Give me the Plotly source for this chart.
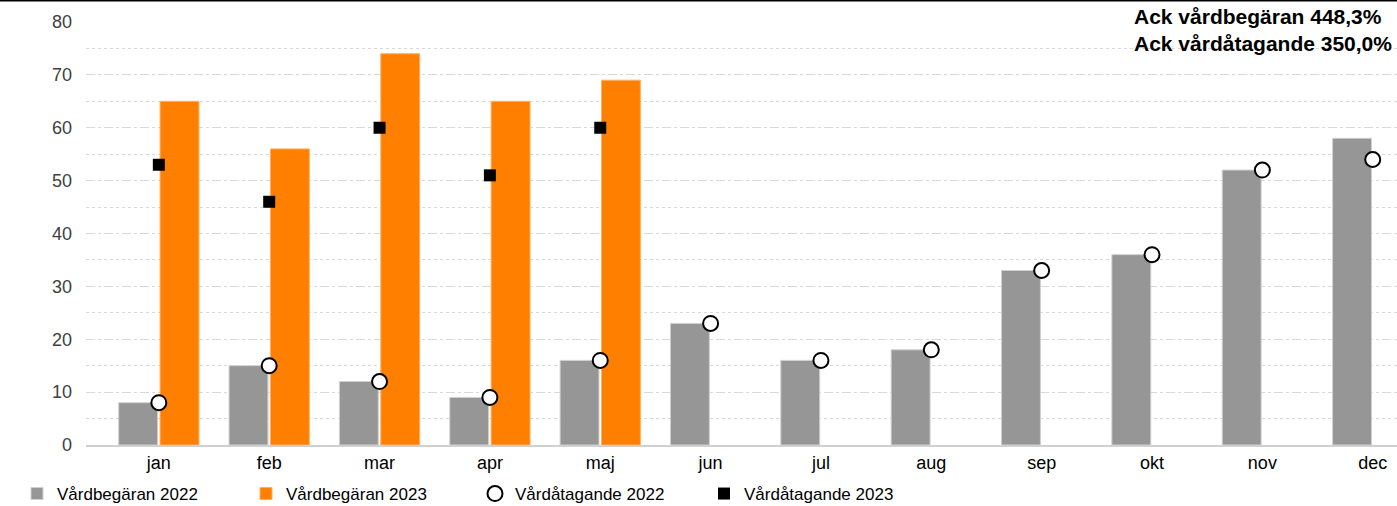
import plotly.graph_objects as go

months = ["jan", "feb", "mar", "apr", "maj", "jun", "jul", "aug", "sep", "okt", "nov", "dec"]
vardbegaran_2022 = [8, 15, 12, 9, 16, 23, 16, 18, 33, 36, 52, 58]
vardbegaran_2023 = [65, 56, 74, 65, 69, None, None, None, None, None, None, None]
vardatagande_2022 = [8, 15, 12, 9, 16, 23, 16, 18, 33, 36, 52, 54]
vardatagande_2023 = [53, 46, 60, 51, 60, None, None, None, None, None, None, None]
y_ticks = [0, 10, 20, 30, 40, 50, 60, 70, 80]
note_text = "Ack vårdbegäran 448,3%<br>Ack vårdåtagande 350,0%"

W, H = 1397, 506
L, T, B = 86, 22, 61
plot_h = H - T - B
plot_w = W - L

fig = go.Figure()
fig.add_trace(go.Bar(x=months, y=vardbegaran_2022, name="Vårdbegäran 2022",
                     marker=dict(color="#969696", line=dict(color="#d0d0d0", width=1))))
fig.add_trace(go.Bar(x=months, y=vardbegaran_2023, name="Vårdbegäran 2023",
                     marker=dict(color="#FF8000", line=dict(color="#ffb066", width=1))))
fig.add_trace(go.Scatter(x=months, y=vardatagande_2022, name="Vårdåtagande 2022", mode="markers",
                         marker=dict(symbol="circle", size=15, color="white",
                                     line=dict(color="black", width=2))))
fig.add_trace(go.Scatter(x=months, y=vardatagande_2023, name="Vårdåtagande 2023", mode="markers",
                         marker=dict(symbol="square", size=12, color="black",
                                     line=dict(color="black", width=0))))

fig.update_layout(
    width=W, height=H,
    margin=dict(l=L, r=0, t=T, b=B, pad=0, autoexpand=False),
    paper_bgcolor="white", plot_bgcolor="white",
    font=dict(family="Liberation Sans, Arial, sans-serif", size=17, color="black"),
    barmode="group", bargap=0.25, bargroupgap=0.06,
    showlegend=True,
    legend=dict(orientation="h", x=(17 - L) / plot_w, xanchor="left",
                y=(plot_h - (494 - T)) / plot_h, yanchor="middle",
                entrywidth=184, entrywidthmode="pixels",
                font=dict(size=17, color="black"), bgcolor="rgba(0,0,0,0)",
                traceorder="normal"),
    xaxis=dict(range=[-0.66, 11.22], showgrid=False, showline=True, linecolor="#d0d0d0",
               linewidth=2, ticks="", tickfont=dict(size=18, color="black"), zeroline=False),
    yaxis=dict(range=[0, 80], tickvals=y_ticks, showgrid=True, gridcolor="#d9d9d9",
               griddash="dash", gridwidth=1, zeroline=False, showline=False,
               tickfont=dict(size=18, color="#404040"), ticklabelstandoff=13,
               minor=dict(dtick=5, showgrid=True, gridcolor="#d9d9d9", griddash="dot", gridwidth=1)),
    annotations=[dict(text="<b>" + note_text + "</b>", xref="paper", yref="paper",
                      x=(plot_w - 3) / plot_w, y=(plot_h + T - 3) / plot_h, xanchor="right", yanchor="top",
                      align="left", showarrow=False,
                      font=dict(size=21, color="black", family="Liberation Sans, Arial, sans-serif"))],
    shapes=[dict(type="line", xref="paper", yref="paper", x0=-L / plot_w, x1=1,
                 y0=(plot_h + T - 0.5) / plot_h, y1=(plot_h + T - 0.5) / plot_h,
                 line=dict(color="black", width=2))],
)

fig.write_html("out.html")
